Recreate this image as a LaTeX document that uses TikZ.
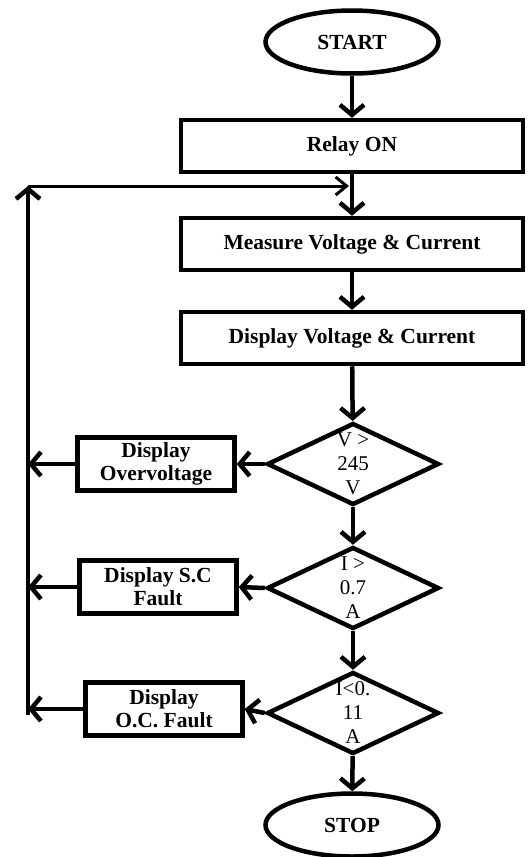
\documentclass[tikz,border=0pt]{standalone}
\usepackage{fontspec}
\setmainfont{Liberation Serif}
\usetikzlibrary{shapes.geometric,arrows.meta}

\begin{document}
\begin{tikzpicture}[
    x=1pt, y=-1pt,
    every node/.style={font=\fontsize{21.5}{23}\selectfont\bfseries},
    term/.style={ellipse, draw, line width=4.5pt, minimum width=173pt,
                 minimum height=63pt, inner sep=0pt},
    proc/.style={rectangle, draw, line width=4.5pt, minimum width=342pt,
                 minimum height=52pt, inner sep=0pt, align=center},
    disp/.style={proc, minimum width=157pt, minimum height=53pt},
    test/.style={diamond, draw, line width=4.5pt, minimum width=172pt,
                 minimum height=82pt, inner sep=0pt},
    tlbl/.style={align=center, inner sep=0pt,
                 font=\fontsize{21}{24}\selectfont},
    flow/.style={line width=4.5pt, -{Straight Barb[length=10pt,width=24pt]}},
    back/.style={line width=3pt, -{Straight Barb[length=11pt,width=18pt]}},
]
\useasboundingbox (0,0) rectangle (529,857);

% ── Main column ──
\node[term] (start) at (352,42) {START};
\node[proc] (relay) at (352,146) {Relay ON};
\node[proc] (meas)  at (352,244) {Measure Voltage \& Current};
\node[proc] (show)  at (352,338) {Display Voltage \& Current};

% ── Tests ──
\node[test] (ovt) at (353,464) {};
\node[tlbl] (ovtxt) at (ovt) {V >\\245\\V};
\node[test] (sct) at (353,588) {};
\node[tlbl] (sctxt) at (sct) {I >\\0.7\\A};
\node[test] (oct) at (353,713) {};
\node[tlbl] (octxt) at (oct) {I<0.\\11\\A};

\node[term] (stop) at (352,825) {STOP};

% ── Fault messages ──
\node[disp] (ov) at (156,464) {Display\\Overvoltage};
\node[disp] (sc) at (158,587) {Display S.C\\Fault};
\node[disp] (oc) at (164,709) {Display\\O.C. Fault};

% ── Return path ──
\coordinate (bustop) at (28,186);
\coordinate (busbot) at (28,715);
\coordinate (join)   at (349,186);

% ── Links ──
\draw[flow] (start) -- (relay);
\draw[flow] (relay) -- (meas);
\draw[flow] (meas) -- (show);
\draw[flow] (show) -- (ovt);
\draw[flow] (ovt) -- (sct);
\draw[flow] (sct) -- (oct);
\draw[flow] (oct) -- (stop);
% fault branches
\draw[flow] (ovt.west) -- (ov.east);
\draw[flow] (sct.west) -- (sc.east);
\draw[flow] (oct.west) -- (oc.east);
\draw[flow] (ov.west) -- (ov.west -| bustop);
\draw[flow] (sc.west) -- (sc.west -| bustop);
\draw[flow] (oc.west) -- (oc.west -| bustop);
% back to measuring
\draw[flow] (busbot) -- (bustop);
\draw[back] (bustop) -- (join);
\end{tikzpicture}
\end{document}
